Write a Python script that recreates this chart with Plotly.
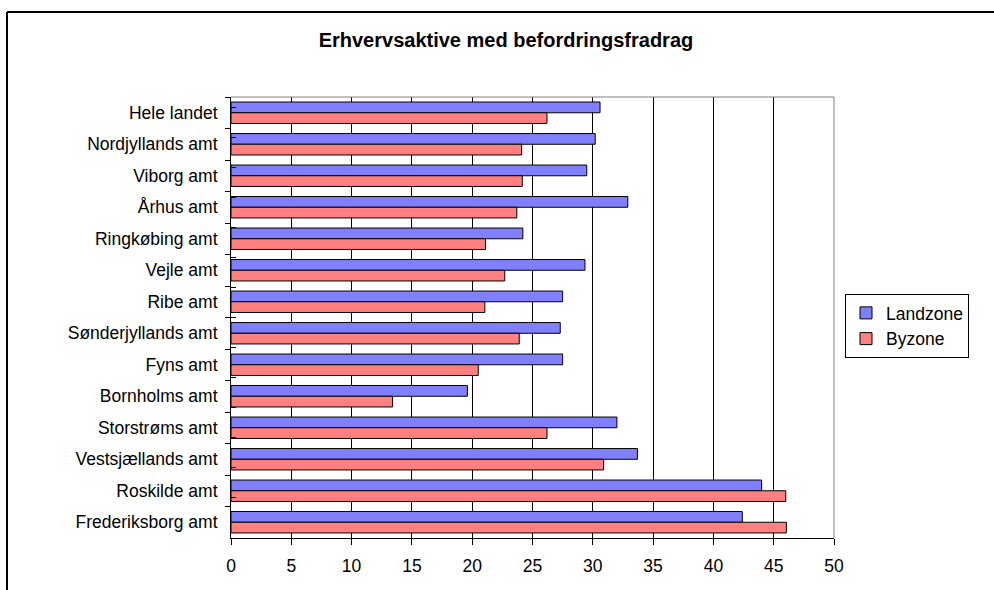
import plotly.graph_objects as go

# Amter (top to bottom as drawn)
categories = [
    "Hele landet",
    "Nordjyllands amt",
    "Viborg amt",
    "Århus amt",
    "Ringkøbing amt",
    "Vejle amt",
    "Ribe amt",
    "Sønderjyllands amt",
    "Fyns amt",
    "Bornholms amt",
    "Storstrøms amt",
    "Vestsjællands amt",
    "Roskilde amt",
    "Frederiksborg amt",
]

# Share of employed persons with a commuting deduction (%)
landzone = [30.6, 30.2, 29.5, 32.9, 24.2, 29.35, 27.5, 27.3, 27.5, 19.6, 32.0, 33.7, 44.0, 42.4]
byzone = [26.2, 24.1, 24.15, 23.7, 21.1, 22.7, 21.05, 23.9, 20.5, 13.4, 26.2, 30.9, 46.0, 46.05]

x_ticks = [0, 5, 10, 15, 20, 25, 30, 35, 40, 45, 50]

FONT = "Liberation Sans, Arial, sans-serif"

# pixel layout of the plotting area inside the 994x590 page
W, H = 994, 590
L, R, T, B = 231, 160, 97, 52
pw, ph = W - L - R, H - T - B


def px_x(p):
    return (p - L) / pw


def px_y(p):
    return (H - B - p) / ph


fig = go.Figure()

fig.add_trace(go.Bar(
    y=categories, x=landzone, orientation="h", name="Landzone",
    marker=dict(color="#8080FF", line=dict(color="#000000", width=1)),
))
fig.add_trace(go.Bar(
    y=categories, x=byzone, orientation="h", name="Byzone",
    marker=dict(color="#FF8080", line=dict(color="#000000", width=1)),
))

# helper trace so the overlay axis carries the inner half of the category ticks
fig.add_trace(go.Scatter(
    y=categories, x=[None] * len(categories), yaxis="y2", mode="markers",
    showlegend=False, hoverinfo="skip",
))

fig.update_layout(
    width=W, height=H,
    margin=dict(l=L, r=R, t=T, b=B),
    paper_bgcolor="white", plot_bgcolor="white",
    font=dict(family=FONT, size=17.5, color="black"),
    barmode="group", bargap=0.32, bargroupgap=0,
    title=dict(
        text="<b>Erhvervsaktive med befordringsfradrag</b>",
        font=dict(family=FONT, size=20, color="black"),
        x=0.509, xref="container", xanchor="center",
        y=1 - 40 / H, yref="container", yanchor="middle",
    ),
    xaxis=dict(
        range=[0, 50], tickvals=x_ticks, ticktext=[str(v) for v in x_ticks],
        showgrid=True, gridcolor="#000000", gridwidth=1,
        showline=True, linecolor="#000000", linewidth=1,
        ticks="outside", ticklen=6, tickcolor="#000000",
        ticklabelstandoff=6,
        zeroline=False, fixedrange=True,
    ),
    yaxis=dict(
        type="category", categoryarray=categories, categoryorder="array",
        autorange="reversed",
        showgrid=False, zeroline=False,
        showline=True, linecolor="#000000", linewidth=1,
        ticks="outside", tickson="boundaries", ticklen=5, tickcolor="#000000",
        ticklabelstandoff=9,
    ),
    yaxis2=dict(
        type="category", categoryarray=categories, categoryorder="array",
        overlaying="y", anchor="x", side="left",
        autorange="reversed",
        showgrid=False, zeroline=False, showline=False,
        ticks="inside", tickson="boundaries", ticklen=5, tickcolor="#000000",
        showticklabels=False,
    ),
    legend=dict(
        x=px_x(845), y=px_y(294), xanchor="left", yanchor="top",
        xref="paper", yref="paper",
        bordercolor="#000000", borderwidth=1, bgcolor="white",
        font=dict(family=FONT, size=17.5, color="black"),
        traceorder="normal", itemwidth=30,
        tracegroupgap=0,
    ),
    showlegend=True,
    shapes=[
        # grey frame on the top and right of the plotting area
        dict(type="line", xref="paper", yref="paper", x0=0, x1=1, y0=1, y1=1,
             line=dict(color="#808080", width=1)),
        dict(type="line", xref="paper", yref="paper", x0=1, x1=1, y0=0, y1=1,
             line=dict(color="#808080", width=1)),
        # chart-area border (top and left edges)
        dict(type="line", xref="paper", yref="paper",
             x0=px_x(7), x1=px_x(W + 20), y0=px_y(12), y1=px_y(12),
             line=dict(color="#000000", width=2)),
        dict(type="line", xref="paper", yref="paper",
             x0=px_x(7), x1=px_x(7), y0=px_y(12), y1=px_y(H + 20),
             line=dict(color="#000000", width=2)),
    ],
)

fig.write_html("out.html")
